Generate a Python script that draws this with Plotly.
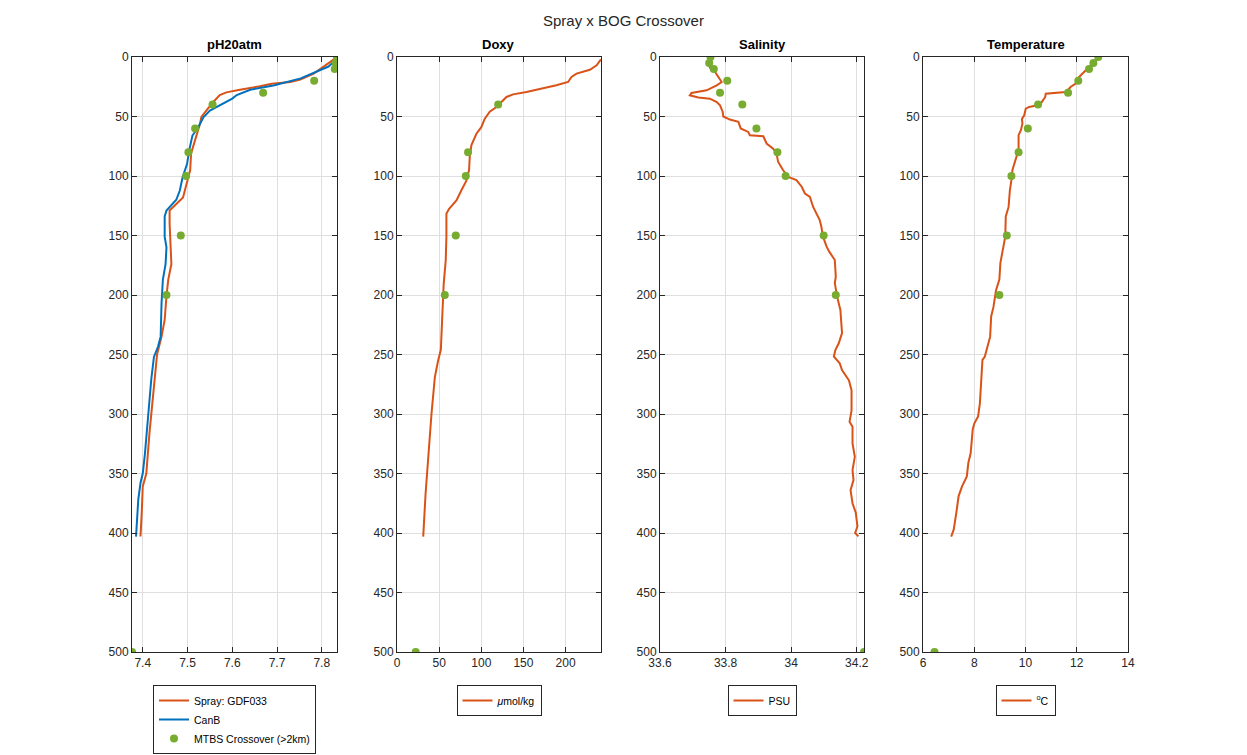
import plotly.graph_objects as go

# ---- data ----
ph_spray_depth = [2, 10, 14, 19, 21, 22.4, 24.6, 27.5, 29.7, 32, 38, 45, 50.4, 56, 70, 81, 95, 106,
                  118, 125, 129, 140, 157, 174, 187, 201, 221, 235, 250, 269, 294, 316, 350, 361, 381, 403]
ph_spray = [7.827, 7.797, 7.782, 7.752, 7.73, 7.688, 7.662, 7.617, 7.587, 7.572, 7.557, 7.542, 7.531,
            7.528, 7.516, 7.508, 7.506, 7.499, 7.49, 7.471, 7.46, 7.46, 7.462, 7.464, 7.457, 7.453,
            7.449, 7.442, 7.432, 7.427, 7.42, 7.415, 7.408, 7.4, 7.398, 7.395]

ph_canb_depth = [3, 8, 18, 24, 27.5, 32, 35, 39, 45, 51, 59, 66, 78, 90, 101, 112, 120, 129, 134, 151,
                 160, 174, 187, 207, 235, 243.5, 252, 271, 291, 308, 333, 350, 358, 372, 392, 403]
ph_canb = [7.83, 7.815, 7.753, 7.692, 7.64, 7.61, 7.6, 7.58, 7.55, 7.535, 7.524, 7.511, 7.504, 7.499,
           7.489, 7.483, 7.475, 7.453, 7.449, 7.449, 7.453, 7.451, 7.445, 7.442, 7.44, 7.434, 7.425,
           7.419, 7.415, 7.41, 7.405, 7.4, 7.395, 7.39, 7.387, 7.385]

doxy_depth = [2, 7, 10.7, 14, 16.8, 21, 23.8, 26.6, 29.4, 31.4, 33.6, 37.8, 42, 46, 52, 59, 64.5, 74,
              84, 95, 104, 112, 120.5, 127.6, 131.8, 151, 171, 190.6, 204, 232, 246, 255, 269, 300,
              336, 367, 403]
doxy = [241.9, 236.8, 228.8, 213, 207, 203, 189, 173, 153.6, 137.8, 129.9, 123.9, 118, 110, 104, 100,
        94.2, 88.3, 86.3, 85.5, 82.3, 76.4, 70.5, 61.8, 58.6, 58.6, 57.8, 55.4, 54.7, 53.5, 52, 48.8,
        44.9, 40.9, 37, 33.9, 31.1]

sal_depth = [1.4, 5.6, 9.8, 12.6, 16.8, 21, 23.8, 28, 30.2, 32.2, 34, 35, 37.8, 40.6, 46, 50, 52.6,
             54.5, 60, 63, 65.7, 66.6, 72.7, 77, 80.6, 88, 95, 100.7, 103.5, 109, 114.7, 117.5, 126,
             131.5, 137, 142.7, 151, 159.4, 163.6, 170.6, 184.6, 190, 201.4, 212.6, 232, 240.6, 246,
             251.7, 257.4, 263, 271.7, 280, 297, 306.6, 310.8, 324.8, 336, 347, 355.5, 364, 375, 383,
             394.5, 400, 402.8]
sal = [33.752, 33.747, 33.754, 33.768, 33.778, 33.788, 33.773, 33.742, 33.696, 33.691, 33.717,
       33.752, 33.773, 33.783, 33.791, 33.793, 33.813, 33.839, 33.846, 33.869, 33.874, 33.915,
       33.925, 33.945, 33.955, 33.96, 33.975, 33.991, 34.016, 34.032, 34.042, 34.057, 34.067, 34.077,
       34.087, 34.092, 34.097, 34.108, 34.116, 34.133, 34.136, 34.133, 34.14, 34.15, 34.155, 34.145,
       34.135, 34.13, 34.148, 34.155, 34.176, 34.184, 34.184, 34.178, 34.187, 34.187, 34.194,
       34.187, 34.19, 34.181, 34.187, 34.197, 34.202, 34.195, 34.205]

temp_depth = [1.4, 5.6, 9.8, 15.4, 18, 22.4, 25, 29.4, 30.8, 33.6, 36.4, 39, 40.6, 42, 43.4, 49, 52,
              56, 61.5, 65.7, 78, 86.7, 95, 103.5, 112, 126, 134, 151, 162, 173, 187, 196, 210, 218,
              235, 243, 252, 254.5, 274, 291, 302, 308, 313, 333, 341, 352.5, 361, 369, 383, 397, 403]
temp = [12.8, 12.61, 12.42, 12.16, 12.03, 11.96, 11.77, 11.57, 10.79, 10.77, 10.69, 10.6, 10.47,
        10.14, 10.01, 9.95, 9.86, 9.88, 9.82, 9.73, 9.73, 9.62, 9.49, 9.45, 9.39, 9.34, 9.23, 9.21,
        9.11, 9.02, 8.98, 8.85, 8.75, 8.66, 8.62, 8.53, 8.41, 8.32, 8.28, 8.22, 8.15, 8.0, 7.94,
        7.86, 7.77, 7.71, 7.52, 7.39, 7.3, 7.2, 7.1]

# MTBS crossover bottle samples
mtbs_depth = [0, 5, 10, 20, 30, 40, 60, 80, 100, 150, 200, 500]
mtbs_ph = [7.834, 7.831, 7.829, 7.783, 7.669, 7.556, 7.517, 7.502, 7.497, 7.485, 7.453, 7.376]
mtbs_doxy = [None, None, None, None, None, 120, None, 84.3, 81.6, 69.7, 56.7, 22.2]
mtbs_sal = [33.754, 33.75, 33.764, 33.805, 33.783, 33.851, 33.894, 33.958, 33.983, 34.099, 34.136, 34.222]
mtbs_temp = [12.84, 12.65, 12.48, 12.06, 11.66, 10.49, 10.09, 9.73, 9.45, 9.27, 8.98, 6.45]

panel_titles = ["pH20atm", "Doxy", "Salinity", "Temperature"]
unit_labels = ["<i>\u03bc</i>mol/kg", "PSU", "<sup>o</sup>C"]
x_ranges = [[7.376, 7.834], [0, 242], [33.6, 34.222], [6, 14]]
x_ticks = [[7.4, 7.5, 7.6, 7.7, 7.8], [0, 50, 100, 150, 200], [33.6, 33.8, 34, 34.2], [6, 8, 10, 12, 14]]
x_ticktext = [["7.4", "7.5", "7.6", "7.7", "7.8"], ["0", "50", "100", "150", "200"],
              ["33.6", "33.8", "34", "34.2"], ["6", "8", "10", "12", "14"]]
depth_ticks = [0, 50, 100, 150, 200, 250, 300, 350, 400, 450, 500]

ORANGE = "#D95319"
BLUE = "#0072BD"
GREEN = "#77AC30"
INK = "#262626"
W, H = 1247, 755

x_dom = [[132 / W, 337 / W], [397 / W, 601 / W], [660 / W, 864 / W], [923 / W, 1128 / W]]
y_dom = [(H - 652) / H, (H - 57) / H]

fig = go.Figure()

# panel 1: pH
fig.add_trace(go.Scatter(x=ph_spray, y=ph_spray_depth, mode="lines", name="Spray: GDF033",
                         line=dict(color=ORANGE, width=2), xaxis="x", yaxis="y", legend="legend"))
fig.add_trace(go.Scatter(x=ph_canb, y=ph_canb_depth, mode="lines", name="CanB",
                         line=dict(color=BLUE, width=2), xaxis="x", yaxis="y", legend="legend"))
fig.add_trace(go.Scatter(x=mtbs_ph, y=mtbs_depth, mode="markers", name="MTBS Crossover (>2km)",
                         marker=dict(color=GREEN, size=8), xaxis="x", yaxis="y", legend="legend"))

# panels 2-4
others = [(doxy, doxy_depth, mtbs_doxy), (sal, sal_depth, mtbs_sal), (temp, temp_depth, mtbs_temp)]
for i, (vals, dep, pts) in enumerate(others):
    n = i + 2
    fig.add_trace(go.Scatter(x=vals, y=dep, mode="lines", name=unit_labels[i],
                             line=dict(color=ORANGE, width=2), xaxis=f"x{n}", yaxis=f"y{n}",
                             legend=f"legend{n}"))
    fig.add_trace(go.Scatter(x=pts, y=mtbs_depth, mode="markers", showlegend=False,
                             marker=dict(color=GREEN, size=8), xaxis=f"x{n}", yaxis=f"y{n}"))

axis_style = dict(showline=True, linecolor=INK, linewidth=1, mirror="ticks", ticks="inside",
                  ticklen=5, tickcolor=INK, showgrid=True, gridcolor="#dfdfdf", gridwidth=1,
                  zeroline=False, automargin=False, tickfont=dict(size=12, color=INK))

layout = dict(
    width=W, height=H,
    margin=dict(l=0, r=0, t=0, b=0),
    paper_bgcolor="white", plot_bgcolor="white",
    font=dict(family="Liberation Sans, Arial, sans-serif", color=INK),
    annotations=[dict(text="Spray x BOG Crossover", x=0.5, y=(H - 21) / H, xref="paper", yref="paper",
                      xanchor="center", yanchor="middle", showarrow=False,
                      font=dict(size=15, color=INK))],
)

for i in range(4):
    s = "" if i == 0 else str(i + 1)
    layout[f"xaxis{s}"] = dict(axis_style, domain=x_dom[i], range=x_ranges[i], tickvals=x_ticks[i],
                               ticktext=x_ticktext[i], anchor=f"y{s}")
    layout[f"yaxis{s}"] = dict(axis_style, domain=y_dom, range=[500, 0], tickvals=depth_ticks,
                               anchor=f"x{s}")
    cx = (x_dom[i][0] + x_dom[i][1]) / 2
    layout["annotations"].append(dict(text=f"<b>{panel_titles[i]}</b>", x=cx, y=(H - 45) / H,
                                      xref="paper", yref="paper", xanchor="center",
                                      yanchor="middle", showarrow=False,
                                      font=dict(size=13, color="black")))
    leg = "legend" if i == 0 else f"legend{i + 1}"
    layout[leg] = dict(x=cx, y=(H - 685) / H, xanchor="center", yanchor="top",
                       bordercolor=INK, borderwidth=1, bgcolor="white",
                       font=dict(size=10.5, color="black"), tracegroupgap=0)

fig.update_layout(**layout)
# the page has an 8px default body margin; drop it so the figure sits at 0,0
fig.write_html("out.html", config={"displayModeBar": False},
               post_script="document.body.style.margin = '0';")
